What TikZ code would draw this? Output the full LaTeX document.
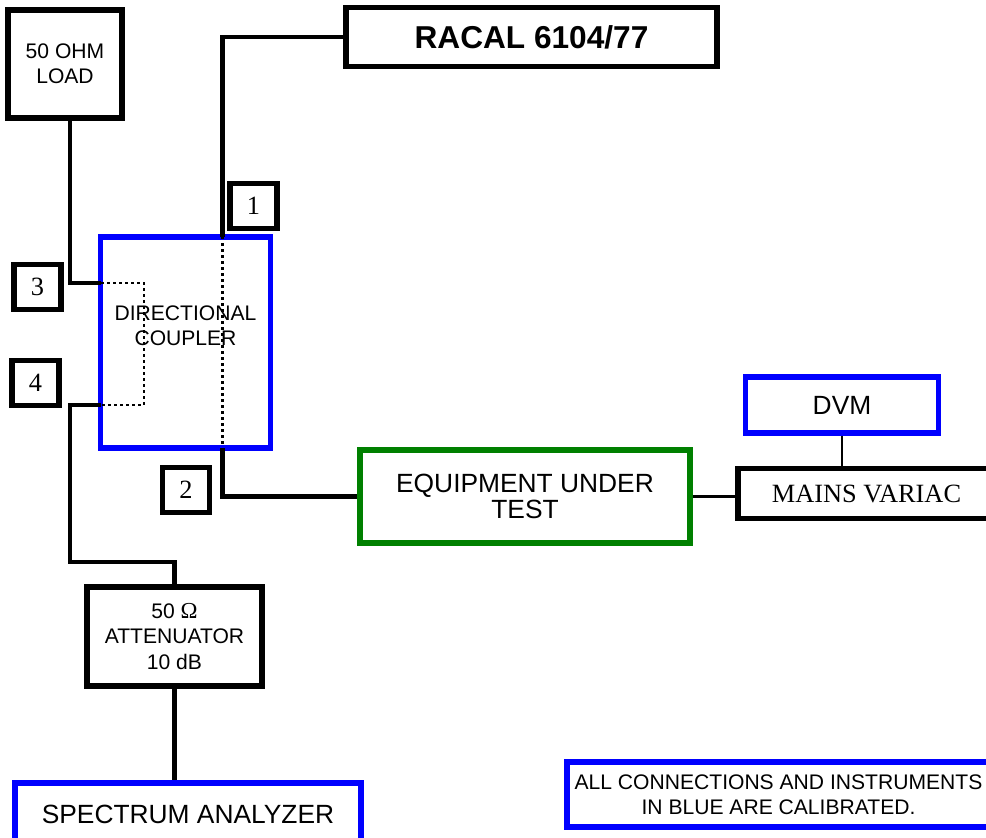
\documentclass[tikz,border=0pt]{standalone}
\usepackage{fontspec}
\setmainfont{Liberation Sans}
\newfontfamily\timesfont{Liberation Serif}
\usepackage{xcolor}
\definecolor{calblue}{RGB}{0,0,255}
\definecolor{eutgreen}{RGB}{0,128,0}

\begin{document}
\begin{tikzpicture}[
	box/.style={draw, line width=1.05mm, inner sep=0pt, align=center, font=\fontsize{12}{14.5}\selectfont},
	bluebox/.style={box, draw=calblue},
	numbox/.style={draw, line width=1.05mm, minimum width=0.94cm, minimum height=0.9cm, inner sep=0pt, font=\timesfont\fontsize{15}{15}\selectfont},
	wire/.style={line width=0.95mm},
	thinwire/.style={line width=0.45mm},
	dotline/.style={line width=0.5mm, dotted}
]
	\useasboundingbox (0, 0) rectangle (19.72, 16.74);

	\node[box, minimum width=7.42cm, minimum height=1.18cm, font=\bfseries\fontsize{18}{18}\selectfont] (racal) at (10.63, 16.0) {RACAL 6104/77};
	\node[box, minimum width=2.28cm, minimum height=2.16cm] (load) at (1.30, 15.46) {50 OHM\\LOAD};

	\node[bluebox, minimum width=3.40cm, minimum height=4.22cm] (dc) at (3.71, 9.89) {};
	\node[align=center, font=\fontsize{12}{14.5}\selectfont] (dclabel) at (3.71, 10.22) {DIRECTIONAL\\COUPLER};

	\node[numbox] (n1) at (5.07, 12.62) {1};
	\node[numbox] (n2) at (3.72, 6.94) {2};
	\node[numbox] (n3) at (0.75, 11.00) {3};
	\node[numbox] (n4) at (0.71, 9.08) {4};

	\node[box, draw=eutgreen, minimum width=6.60cm, minimum height=1.86cm, font=\fontsize{15}{15}\selectfont] (eut) at (10.50, 6.81) {EQUIPMENT UNDER\\TEST};
	\node[bluebox, minimum width=3.86cm, minimum height=1.12cm, font=\fontsize{15}{15}\selectfont] (dvm) at (16.84, 8.64) {DVM};
	\node[box, minimum width=5.14cm, minimum height=1.0cm, font=\timesfont\fontsize{15}{15}\selectfont] (variac) at (17.33, 6.87) {MAINS VARIAC};

	\node[box, minimum width=3.50cm, minimum height=1.98cm] (att) at (3.49, 4.01) {50 {\timesfont\fontsize{13}{13}\selectfont Ω}\\ATTENUATOR\\10 dB};
	\node[bluebox, minimum width=6.92cm, minimum height=1.24cm, font=\fontsize{15}{15}\selectfont] (sa) at (3.76, 0.46) {SPECTRUM ANALYZER};
	\node[bluebox, minimum width=8.46cm, minimum height=1.30cm] (note) at (15.57, 0.85) {ALL CONNECTIONS AND INSTRUMENTS\\IN BLUE ARE CALIBRATED.};

	% ports of the coupler and bends of the cables
	\coordinate (c1) at (4.45, 12.0);
	\coordinate (c2) at (4.45, 7.78);
	\coordinate (c3) at (2.02, 11.08);
	\coordinate (c4) at (2.02, 8.64);
	\coordinate (d3) at (2.88, 11.08);
	\coordinate (d4) at (2.88, 8.64);
	\coordinate (l3) at (1.40, 14.38);
	\coordinate (k4) at (1.40, 5.50);

	% Draw the cables
	\draw[wire] (c1) |- (racal.west);
	\draw[dotline] (c1) -- (c2);
	\draw[wire] (c2) |- (eut.west);
	\draw[wire] (l3) |- (c3);
	\draw[dotline] (c3) -- (d3) -- (d4) -- (c4);
	\draw[wire] (c4) -| (k4) -| (att.north);
	\draw[wire] (att.south) -- (att.south |- sa.north);
	\draw[thinwire] (eut.east) -- (eut.east -| variac.west);
	\draw[thinwire] (dvm.south) -- (dvm.south |- variac.north);
\end{tikzpicture}
\end{document}
